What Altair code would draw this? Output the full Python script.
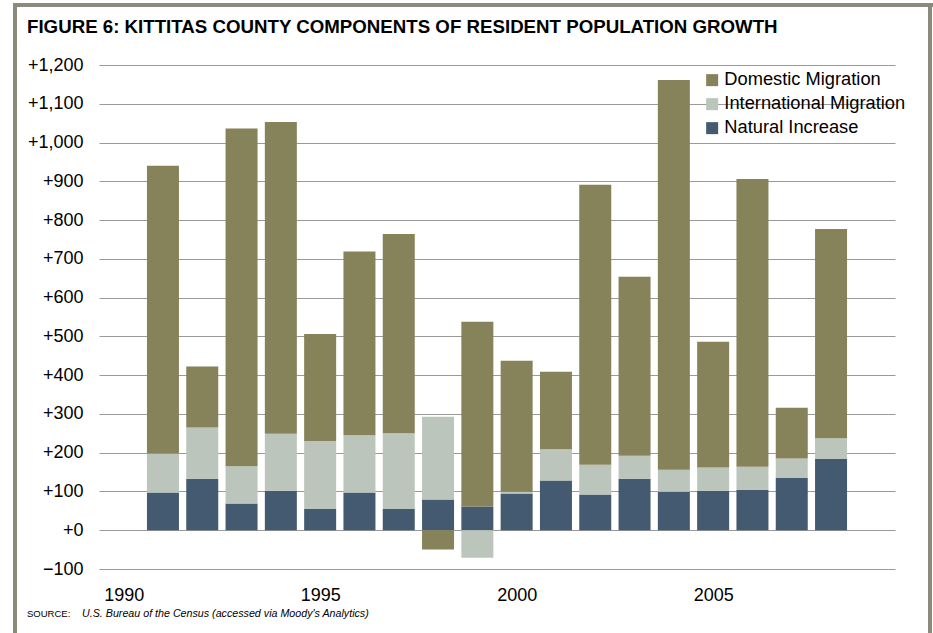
import altair as alt
import pandas as pd

years = list(range(1991, 2009))
natural = [97, 133, 69, 102, 55, 97, 55, 79, 61, 95, 128, 92, 133, 99, 102, 104, 135, 184]
international = [101, 132, 96, 147, 175, 148, 195, 214, -71, 4, 81, 77, 59, 57, 60, 60, 50, 53]
domestic = [742, 157, 871, 804, 276, 474, 514, -50, 477, 338, 200, 722, 462, 1005, 324, 742, 131, 540]

series_names = ["Domestic Migration", "International Migration", "Natural Increase"]
series_colors = ["#86825A", "#BBC5BC", "#435A70"]
stack_order = {"Natural Increase": 0, "International Migration": 1, "Domestic Migration": 2}
y_ticks = list(range(-100, 1300, 100))
x_ticks = [1990, 1995, 2000, 2005]

title_text = "FIGURE 6: KITTITAS COUNTY COMPONENTS OF RESIDENT POPULATION GROWTH"
source_label = "SOURCE:"
source_text = "U.S. Bureau of the Census (accessed via Moody's Analytics)"

rows = []
for i, yr in enumerate(years):
    for name, vals in (("Natural Increase", natural),
                       ("International Migration", international),
                       ("Domestic Migration", domestic)):
        rows.append({"year": yr, "component": name, "value": vals[i],
                     "ord": stack_order[name]})
df = pd.DataFrame(rows)

FONT = "Liberation Sans"
W, H = 796, 504
PL, PT, PR, PB = 99, 65, 38, 64

bars = alt.Chart(df).mark_bar(width=32).encode(
    x=alt.X("year:Q",
            scale=alt.Scale(domain=[1989.5, 2009.5], nice=False, zero=False),
            axis=alt.Axis(values=x_ticks, format="d", title=None, grid=False,
                          ticks=False, domain=False, labelFontSize=18,
                          labelFont=FONT, labelColor="#000000",
                          labelPadding=17)),
    y=alt.Y("value:Q", stack="zero",
            scale=alt.Scale(domain=[-100, 1200], nice=False),
            axis=alt.Axis(values=y_ticks, format="+,d", title=None,
                          ticks=False, domain=False, labelFontSize=18,
                          labelFont=FONT, labelColor="#000000",
                          labelPadding=16, gridColor="#9a9a9a",
                          gridWidth=1)),
    color=alt.Color("component:N",
                    scale=alt.Scale(domain=series_names, range=series_colors),
                    legend=alt.Legend(title=None, orient="none",
                                      legendX=604, legendY=6,
                                      symbolType="square", symbolSize=144,
                                      symbolStrokeWidth=0,
                                      labelFontSize=18.3, labelFont=FONT,
                                      labelColor="#000000", labelOffset=3,
                                      labelLimit=0,
                                      rowPadding=5, padding=0)),
    order=alt.Order("ord:Q", sort="ascending"),
)

title_mark = alt.Chart(pd.DataFrame({"t": [title_text]})).mark_text(
    align="left", baseline="middle", fontSize=18.7, font=FONT,
    fontWeight="bold", color="#000000"
).encode(x=alt.value(27 - PL), y=alt.value(27 - PT), text="t:N")

src1 = alt.Chart(pd.DataFrame({"t": [source_label]})).mark_text(
    align="left", baseline="middle", fontSize=9.5, font=FONT, color="#000000"
).encode(x=alt.value(27 - PL), y=alt.value(614 - PT), text="t:N")

src2 = alt.Chart(pd.DataFrame({"t": [source_text]})).mark_text(
    align="left", baseline="middle", fontSize=10.7, font=FONT,
    fontStyle="italic", color="#000000"
).encode(x=alt.value(82 - PL), y=alt.value(614 - PT), text="t:N")

frame_color = "#8C8B7B"
frame_top = alt.Chart(pd.DataFrame({"a": [0]})).mark_rule(
    color=frame_color, strokeWidth=4
).encode(x=alt.value(13 - PL), x2=alt.value(933 - PL), y=alt.value(5 - PT))
frame_left = alt.Chart(pd.DataFrame({"a": [0]})).mark_rule(
    color=frame_color, strokeWidth=4
).encode(x=alt.value(15 - PL), y=alt.value(3 - PT), y2=alt.value(640 - PT))
frame_right = alt.Chart(pd.DataFrame({"a": [0]})).mark_rule(
    color=frame_color, strokeWidth=4
).encode(x=alt.value(930 - PL), y=alt.value(3 - PT), y2=alt.value(640 - PT))

chart = alt.layer(bars, title_mark, src1, src2,
                  frame_top, frame_left, frame_right).properties(
    width=W, height=H,
    autosize=alt.AutoSizeParams(type="none"),
    padding={"left": PL, "top": PT, "right": PR, "bottom": PB},
    background="#ffffff",
).configure_view(stroke=None)

chart.save("out.html", embed_options={"renderer": "svg", "actions": False})
